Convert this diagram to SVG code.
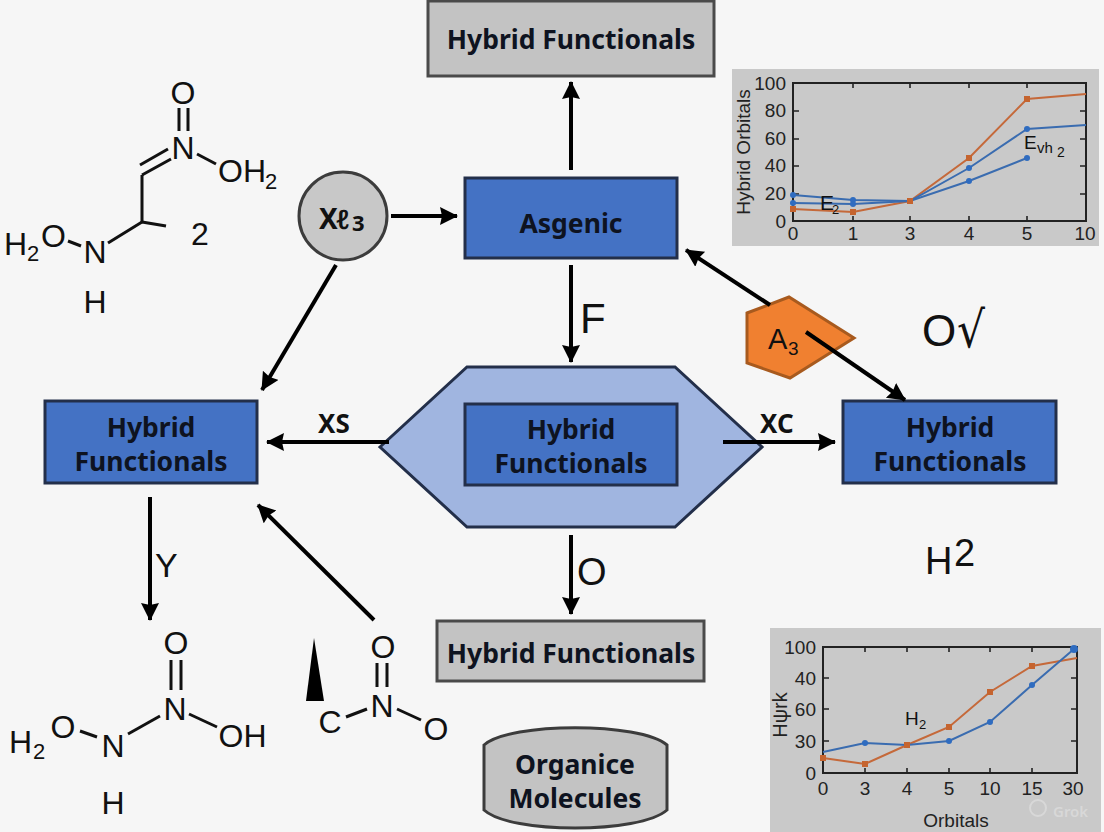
<svg xmlns="http://www.w3.org/2000/svg" width="1104" height="832" viewBox="0 0 1104 832">
<defs>
<style>
.gbox{fill:#c3c3c3;stroke:#4a4a4a;stroke-width:3}
.bbox{fill:#4472c4;stroke:#232f4a;stroke-width:3}
.nt{font-family:"Noto Sans","Open Sans",sans-serif;font-weight:700;font-size:26.5px;fill:#0e1320;text-anchor:middle}
.conn line{stroke:#000;stroke-width:4;fill:none;marker-end:url(#ah)}
.lab{font-family:"Liberation Sans",sans-serif;fill:#111}
.xl{font-family:"Noto Sans","Open Sans",sans-serif;font-weight:700;font-size:26px;fill:#111}
.chem{font-family:"Liberation Sans",sans-serif;font-size:32px;fill:#111}
.sub{font-family:"Liberation Sans",sans-serif;font-size:22px;fill:#111}
.bond{stroke:#111;stroke-width:3;fill:none}
.panel{fill:#c9c9c9}
.axis{fill:none;stroke:#222;stroke-width:2}
.tick{stroke:#222;stroke-width:1.6}
.tk{font-family:"Liberation Sans",sans-serif;font-size:19px;fill:#222}
.or{fill:none;stroke:#c5693a;stroke-width:2}
.bl{fill:none;stroke:#3a6cb0;stroke-width:2}
.om{fill:#c5642f}
.bm{fill:#2f6cc0}
</style>
<marker id="ah" markerUnits="userSpaceOnUse" markerWidth="20" markerHeight="20" refX="17" refY="9" orient="auto">
<path d="M0 0 L18 9 L0 18 L2 9 Z" fill="#000"/>
</marker>
</defs>
<rect width="1104" height="832" fill="#f6f6f6"/>

<g id="node-top"><rect class="gbox" x="428" y="1" width="286" height="75"/><text class="nt" x="571" y="49">Hybrid Functionals</text></g>
<g id="node-asgenic"><rect class="bbox" x="465" y="178" width="212" height="80"/><text class="nt" x="571" y="233">Asgenic</text></g>
<g id="node-xl3"><circle cx="343" cy="216" r="44" fill="#c8c8c8" stroke="#3c3c3c" stroke-width="3"/><text class="xl" x="319" y="229" style="font-size:28px">X<tspan x="336" font-weight="600" style="font-size:27px">ℓ</tspan><tspan x="352" y="231" style="font-size:22px">3</tspan></text></g>
<g id="node-center"><polygon points="380,447 467,367 675,367 762,447 675,527 467,527" fill="#a0b5e0" stroke="#232f4a" stroke-width="3"/><rect class="bbox" x="465" y="404" width="212" height="81"/><text class="nt" x="571" y="439">Hybrid</text><text class="nt" x="571" y="473">Functionals</text></g>
<g id="node-left"><rect class="bbox" x="45" y="401" width="212" height="82"/><text class="nt" x="151" y="437">Hybrid</text><text class="nt" x="151" y="471">Functionals</text></g>
<g id="node-right"><rect class="bbox" x="843" y="401" width="213" height="82"/><text class="nt" x="950" y="437">Hybrid</text><text class="nt" x="950" y="471">Functionals</text></g>
<g id="node-bottom"><rect class="gbox" x="437" y="621" width="267" height="60"/><text class="nt" x="571" y="663">Hybrid Functionals</text></g>
<g id="node-organic"><path d="M484 745 C510 722 640 722 667 745 L667 810 C640 834 510 834 484 810 Z" fill="#c3c3c3" stroke="#3c3c3c" stroke-width="3"/><text class="nt" x="575" y="774">Organice</text><text class="nt" x="575" y="808">Molecules</text></g>
<g id="node-a3"><polygon points="747,313 789,297 854,338 790,378 747,363" fill="#f08030" stroke="#a85a1e" stroke-width="3"/><text class="lab" x="768" y="349" font-size="29">A</text><text class="lab" x="788" y="355" font-size="19">3</text></g>

<g id="connectors" class="conn">
<line x1="571" y1="170" x2="571" y2="82"/>
<line x1="391" y1="216" x2="457" y2="216"/>
<line x1="336" y1="265" x2="262" y2="390"/>
<line x1="571" y1="265" x2="571" y2="362"/>
<line x1="389" y1="442" x2="267" y2="442"/>
<line x1="723" y1="442" x2="835" y2="442"/>
<line x1="770" y1="305" x2="686" y2="250"/>
<line x1="806" y1="332" x2="905" y2="400"/>
<line x1="150" y1="497" x2="150" y2="620"/>
<line x1="374" y1="620" x2="258" y2="505"/>
<line x1="571" y1="535" x2="571" y2="614"/>
</g>
<g id="labels">
<text class="lab" x="580" y="333" font-size="42">F</text>
<text class="xl" x="318" y="433">XS</text>
<text class="xl" x="760" y="433">XC</text>
<text class="lab" x="155" y="577" font-size="34">Y</text>
<text class="lab" x="577" y="585" font-size="38">O</text>
<text class="lab" x="922" y="346" font-size="44">O</text>
<text x="957" y="347" font-size="50" textLength="28" lengthAdjust="spacingAndGlyphs" font-family="'DejaVu Sans',sans-serif" fill="#111">√</text>
<text class="lab" x="925" y="574" font-size="38">H</text>
<text class="lab" x="954" y="566" font-size="38">2</text>
</g>

<g id="mol-1">
<text class="chem" x="170.5" y="104">O</text>
<line class="bond" x1="179" y1="108" x2="179" y2="131"/><line class="bond" x1="188" y1="108" x2="188" y2="131"/>
<text class="chem" x="171.5" y="158.500">N</text>
<line class="bond" x1="140" y1="165" x2="168" y2="149"/><line class="bond" x1="142" y1="175" x2="171" y2="159"/>
<line class="bond" x1="142" y1="175" x2="142" y2="222"/><line class="bond" x1="142" y1="222" x2="108" y2="243"/><line class="bond" x1="142" y1="222" x2="166" y2="226"/>
<line class="bond" x1="197" y1="154" x2="216" y2="164"/>
<text class="chem" x="218" y="182">OH</text><text class="sub" x="265" y="189">2</text>
<text class="chem" x="191" y="245">2</text>
<text class="chem" x="83.5" y="263">N</text>
<line class="bond" x1="68" y1="241" x2="81" y2="246"/>
<text class="chem" x="4" y="255">H</text><text class="sub" x="27" y="261">2</text><text class="chem" x="41" y="247">O</text>
<text class="chem" x="83.5" y="313">H</text>
</g>
<g id="mol-2">
<text class="chem" x="163.5" y="654">O</text>
<line class="bond" x1="171" y1="660" x2="171" y2="690"/><line class="bond" x1="181" y1="660" x2="181" y2="690"/>
<text class="chem" x="163.5" y="720">N</text>
<line class="bond" x1="160" y1="716" x2="128" y2="734"/>
<line class="bond" x1="189" y1="714" x2="217" y2="727"/>
<text class="chem" x="218.5" y="747">OH</text>
<text class="chem" x="101.5" y="757">N</text>
<line class="bond" x1="80" y1="731" x2="97" y2="737"/>
<text class="chem" x="9" y="753">H</text><text class="sub" x="33" y="759">2</text><text class="chem" x="50.5" y="738">O</text>
<text class="chem" x="101.5" y="814">H</text>
</g>
<g id="mol-3">
<polygon points="314,638 306,701 324,701" fill="#000"/>
<text class="chem" x="318.5" y="733">C</text>
<line class="bond" x1="346" y1="717" x2="367" y2="709"/>
<text class="chem" x="370.5" y="717">N</text>
<text class="chem" x="370.5" y="658">O</text>
<line class="bond" x1="377" y1="663" x2="377" y2="687"/><line class="bond" x1="387" y1="663" x2="387" y2="687"/>
<line class="bond" x1="397" y1="709" x2="421" y2="720"/>
<text class="chem" x="423.5" y="740">O</text>
</g>

<g id="chart-top">
<rect class="panel" x="732" y="69" width="367" height="177"/>
<rect class="axis" x="793" y="83" width="293" height="138"/>
<path class="tick" d="M793 111H799M793 139H799M793 166H799M793 194H799M853 83V88M910 83V88M969 83V88M1027 83V88M853 221V216M910 221V216M969 221V216M1027 221V216M1086 111H1080M1086 139H1080M1086 166H1080M1086 194H1080"/>
<g class="tk" text-anchor="end"><text x="786" y="90">100</text><text x="786" y="117">80</text><text x="786" y="145">60</text><text x="786" y="172">40</text><text x="786" y="200">20</text><text x="786" y="228">0</text></g>
<g class="tk" text-anchor="middle"><text x="793" y="240">0</text><text x="853" y="240">1</text><text x="910" y="240">3</text><text x="969" y="240">4</text><text x="1027" y="240">5</text><text x="1085" y="240">10</text></g>
<text class="tk" transform="translate(750 152) rotate(-90)" text-anchor="middle">Hybrid Orbitals</text>
<polyline class="or" points="793,209 853,212 910,201 969,158 1027,99 1086,94"/>
<polyline class="bl" points="793,195 853,200 910,201 969,168 1027,129 1086,125"/>
<polyline class="bl" points="793,203 853,204 910,201 969,181 1027,158"/>
<g class="om"><rect x="790" y="206" width="6" height="6"/><rect x="850" y="209" width="6" height="6"/><rect x="907" y="198" width="6" height="6"/><rect x="966" y="155" width="6" height="6"/><rect x="1024" y="96" width="6" height="6"/></g>
<g class="bm"><circle cx="793" cy="195" r="3"/><circle cx="853" cy="200" r="3"/><circle cx="969" cy="168" r="3"/><circle cx="1027" cy="129" r="3"/><circle cx="793" cy="203" r="3"/><circle cx="853" cy="204" r="3"/><circle cx="969" cy="181" r="3"/><circle cx="1027" cy="158" r="3"/></g>
<text class="lab" x="820" y="210" font-size="21">E</text><text class="lab" x="832" y="214" font-size="13">2</text>
<text class="lab" x="1024" y="149" font-size="19">E</text><text class="lab" x="1037" y="153" font-size="15">vh</text><text class="lab" x="1057" y="157" font-size="14">2</text>
</g>

<g id="chart-bottom">
<rect class="panel" x="770" y="628" width="331" height="204"/>
<rect class="axis" x="823" y="647" width="254" height="126"/>
<path class="tick" d="M823 678H829M823 709H829M823 741H829M865 647V652M907 647V652M949 647V652M990 647V652M1032 647V652M865 773V768M907 773V768M949 773V768M990 773V768M1032 773V768M1077 678H1071M1077 709H1071M1077 741H1071"/>
<g class="tk" text-anchor="end"><text x="816" y="654">100</text><text x="816" y="685">40</text><text x="816" y="716">60</text><text x="816" y="748">30</text><text x="816" y="780">0</text></g>
<g class="tk" text-anchor="middle"><text x="823" y="795">0</text><text x="865" y="795">3</text><text x="907" y="795">4</text><text x="949" y="795">5</text><text x="990" y="795">10</text><text x="1032" y="795">15</text><text x="1073" y="795">30</text></g>
<text class="tk" transform="translate(787 715) rotate(-90)" text-anchor="middle" style="font-size:20px">Hψrk</text>
<text class="tk" x="956" y="827" text-anchor="middle">Orbitals</text>
<polyline class="or" points="823,758 865,764 907,745 949,727 990,692 1032,666 1077,658"/>
<polyline class="bl" points="823,752 865,743 907,745 949,741 990,722 1032,685 1074,649"/>
<g class="om"><rect x="820" y="755" width="6" height="6"/><rect x="862" y="761" width="6" height="6"/><rect x="904" y="742" width="6" height="6"/><rect x="946" y="724" width="6" height="6"/><rect x="987" y="689" width="6" height="6"/><rect x="1029" y="663" width="6" height="6"/></g>
<g class="bm"><circle cx="865" cy="743" r="3"/><circle cx="949" cy="741" r="3"/><circle cx="990" cy="722" r="3"/><circle cx="1032" cy="685" r="3"/><circle cx="1074" cy="649" r="4"/></g>
<text class="lab" x="905" y="725" font-size="19">H</text><text class="lab" x="919" y="729" font-size="13">2</text>
<circle cx="1038" cy="808" r="8" fill="none" stroke="#d8d8d8" stroke-width="2"/>
<text x="1053" y="817" font-family="'Noto Sans',sans-serif" font-size="15" font-weight="600" fill="#d8d8d8">Grok</text>
</g>
</svg>
